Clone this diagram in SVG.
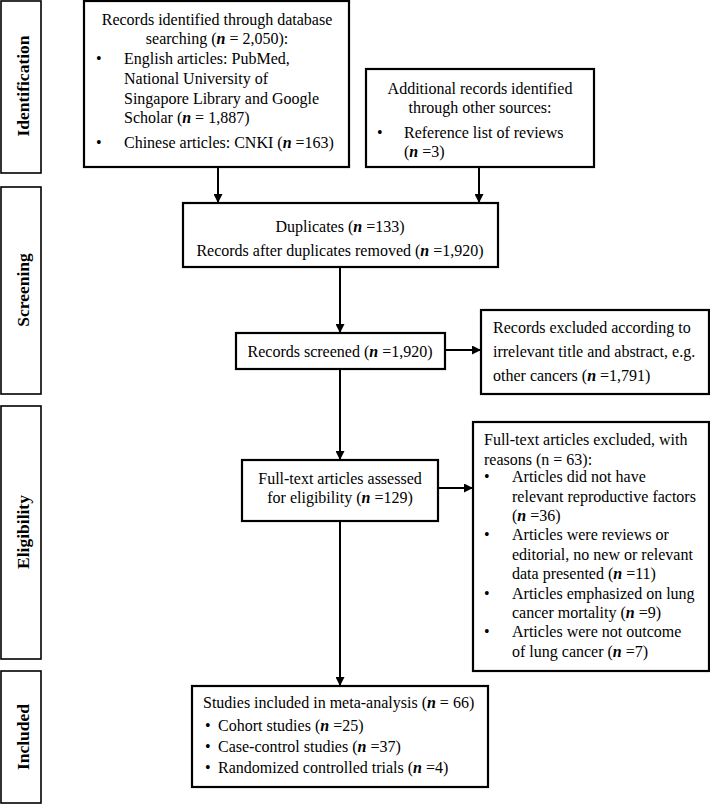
<svg xmlns="http://www.w3.org/2000/svg" width="710" height="804" viewBox="0 0 710 804">
<style>
text{font-family:"Liberation Serif","Times New Roman",serif;font-size:16px;fill:#000}
.side{font-weight:bold;font-size:17.5px}
.c{text-anchor:middle}
.box{fill:#fff;stroke:#000;stroke-width:2.2}
.sbox{fill:#fff;stroke:#000;stroke-width:1.6}
.ln{stroke:#000;stroke-width:2;fill:none}
</style>
<defs>
<marker id="ah" viewBox="0 0 10 10" refX="10" refY="5" markerWidth="5" markerHeight="4.5" orient="auto" markerUnits="strokeWidth">
<path d="M0,0L10,5L0,10z" fill="#000"/>
</marker>
</defs>
<rect width="710" height="804" fill="#fff"/>
<g id="stages">
<g id="stage-identification"><rect class="sbox" x="1" y="1" width="40" height="172"/><text class="side c" transform="translate(29,86) rotate(-90)">Identification</text></g>
<g id="stage-screening"><rect class="sbox" x="1" y="187" width="40" height="207"/><text class="side c" transform="translate(29,290) rotate(-90)">Screening</text></g>
<g id="stage-eligibility"><rect class="sbox" x="1" y="406" width="40" height="253"/><text class="side c" transform="translate(29,532) rotate(-90)">Eligibility</text></g>
<g id="stage-included"><rect class="sbox" x="1" y="671" width="40" height="132"/><text class="side c" transform="translate(29,737) rotate(-90)">Included</text></g>
</g>
<g id="connectors">
<line class="ln" x1="218" y1="167" x2="218" y2="203" marker-end="url(#ah)"/>
<line class="ln" x1="479" y1="167" x2="479" y2="203" marker-end="url(#ah)"/>
<line class="ln" x1="340" y1="267" x2="340" y2="333" marker-end="url(#ah)"/>
<line class="ln" x1="445" y1="350" x2="481" y2="350" marker-end="url(#ah)"/>
<line class="ln" x1="340" y1="369" x2="340" y2="460" marker-end="url(#ah)"/>
<line class="ln" x1="438" y1="488" x2="473" y2="488" marker-end="url(#ah)"/>
<line class="ln" x1="340" y1="521" x2="340" y2="686" marker-end="url(#ah)"/>
</g>
<g id="n-identified">
<rect class="box" x="84" y="1" width="265" height="166"/>
<text class="c" x="217" y="25">Records identified through database</text>
<text class="c" x="217" y="44">searching (<tspan font-weight="bold" font-style="italic">n</tspan> = 2,050):</text>
<text x="96" y="64">•</text>
<text x="124" y="64">English articles: PubMed,</text>
<text x="124" y="84">National University of</text>
<text x="124" y="104">Singapore Library and Google</text>
<text x="124" y="123">Scholar (<tspan font-weight="bold" font-style="italic">n</tspan> = 1,887)</text>
<text x="96" y="148">•</text>
<text x="124" y="148">Chinese articles: CNKI (<tspan font-weight="bold" font-style="italic">n</tspan> =163)</text>
</g>
<g id="n-additional">
<rect class="box" x="366" y="69" width="228" height="98"/>
<text class="c" x="480" y="94">Additional records identified</text>
<text class="c" x="480" y="113">through other sources:</text>
<text x="377" y="138">•</text>
<text x="404" y="138">Reference list of reviews</text>
<text x="404" y="157">(<tspan font-weight="bold" font-style="italic">n</tspan> =3)</text>
</g>
<g id="n-duplicates">
<rect class="box" x="183" y="203" width="315" height="64"/>
<text class="c" x="340" y="232">Duplicates (<tspan font-weight="bold" font-style="italic">n</tspan> =133)</text>
<text class="c" x="340" y="256">Records after duplicates removed (<tspan font-weight="bold" font-style="italic">n</tspan> =1,920)</text>
</g>
<g id="n-screened">
<rect class="box" x="236" y="333" width="209" height="36"/>
<text class="c" x="340" y="357">Records screened (<tspan font-weight="bold" font-style="italic">n</tspan> =1,920)</text>
</g>
<g id="n-excluded-records">
<rect class="box" x="481" y="310" width="228" height="84"/>
<text x="493" y="333">Records excluded according to</text>
<text x="493" y="357">irrelevant title and abstract, e.g.</text>
<text x="493" y="381">other cancers (<tspan font-weight="bold" font-style="italic">n</tspan> =1,791)</text>
</g>
<g id="n-assessed">
<rect class="box" x="242" y="460" width="196" height="61"/>
<text class="c" x="340" y="484">Full-text articles assessed</text>
<text class="c" x="340" y="503">for eligibility (<tspan font-weight="bold" font-style="italic">n</tspan> =129)</text>
</g>
<g id="n-excluded-fulltext">
<rect class="box" x="473" y="422" width="236" height="249"/>
<text x="484" y="445">Full-text articles excluded, with</text>
<text x="484" y="465">reasons (n = 63):</text>
<text x="484" y="482">•</text>
<text x="512" y="482">Articles did not have</text>
<text x="512" y="502">relevant reproductive factors</text>
<text x="512" y="521">(<tspan font-weight="bold" font-style="italic">n</tspan> =36)</text>
<text x="484" y="540">•</text>
<text x="512" y="540">Articles were reviews or</text>
<text x="512" y="560">editorial, no new or relevant</text>
<text x="512" y="579">data presented (<tspan font-weight="bold" font-style="italic">n</tspan> =11)</text>
<text x="484" y="599">•</text>
<text x="512" y="599">Articles emphasized on lung</text>
<text x="512" y="618">cancer mortality (<tspan font-weight="bold" font-style="italic">n</tspan> =9)</text>
<text x="484" y="637">•</text>
<text x="512" y="637">Articles were not outcome</text>
<text x="512" y="657">of lung cancer (<tspan font-weight="bold" font-style="italic">n</tspan> =7)</text>
</g>
<g id="n-included">
<rect class="box" x="192" y="686" width="296" height="101"/>
<text x="203" y="708">Studies included in meta-analysis (<tspan font-weight="bold" font-style="italic">n</tspan> = 66)</text>
<text x="205" y="731">•</text>
<text x="218" y="731">Cohort studies (<tspan font-weight="bold" font-style="italic">n</tspan> =25)</text>
<text x="205" y="752">•</text>
<text x="218" y="752">Case-control studies (<tspan font-weight="bold" font-style="italic">n</tspan> =37)</text>
<text x="205" y="773">•</text>
<text x="218" y="773">Randomized controlled trials (<tspan font-weight="bold" font-style="italic">n</tspan> =4)</text>
</g>
</svg>
